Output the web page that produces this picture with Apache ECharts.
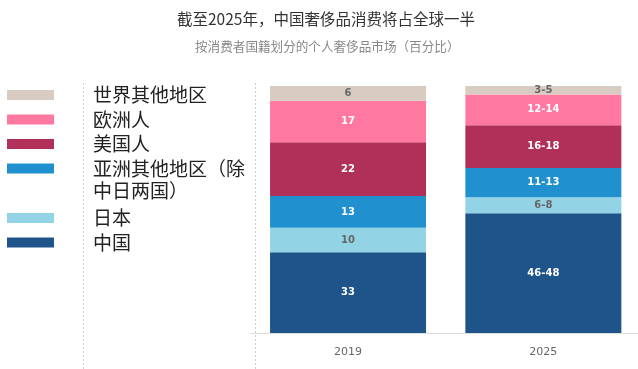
<!DOCTYPE html>
<html>
<head>
<meta charset="utf-8">
<script src="https://cdn.jsdelivr.net/npm/echarts@6/dist/echarts.min.js"></script>
<style>html,body{margin:0;padding:0;background:#fff;overflow:hidden;}#c{width:641px;height:369px;}</style>
</head>
<body>
<div id="c"></div>
<script>
var categories = ['2019', '2025'];
var seriesNames = ['中国', '日本', '亚洲其他地区（除中日两国）', '美国人', '欧洲人', '世界其他地区'];
var chinaVals  = [33, 49];
var japanVals  = [10, 6.5];
var asiaVals   = [13, 12];
var usVals     = [22, 17.5];
var europeVals = [17, 12.5];
var restVals   = [6, 3.5];
var chinaLbl  = ['33', '46-48'];
var japanLbl  = ['10', '6-8'];
var asiaLbl   = ['13', '11-13'];
var usLbl     = ['22', '16-18'];
var europeLbl = ['17', '12-14'];
var restLbl   = ['6', '3-5'];
var titleText = '截至2025年，中国奢侈品消费将占全球一半';
var subText = '按消费者国籍划分的个人奢侈品市场（百分比）';

var colors = ['#1f548b', '#93d3e6', '#2190cf', '#b03059', '#ff78a0', '#d8cbc1'];
var labelColors = ['#fff', '#666', '#fff', '#fff', '#fff', '#666'];
var vals = [chinaVals, japanVals, asiaVals, usVals, europeVals, restVals];
var lbls = [chinaLbl, japanLbl, asiaLbl, usLbl, europeLbl, restLbl];

var series = seriesNames.map(function (n, i) {
  return {
    name: n, type: 'bar', stack: 'all', barWidth: 156,
    itemStyle: { color: colors[i] },
    label: {
      show: true, position: 'inside', color: labelColors[i],
      fontSize: 10, fontWeight: 'bold', fontFamily: 'DejaVu Sans',
      formatter: function (p) { return lbls[i][p.dataIndex]; }
    },
    data: vals[i]
  };
});

var legendCommon = {
  orient: 'vertical', left: 7, padding: 0, itemWidth: 47, itemHeight: 10,
  itemGap: 0.5, icon: 'rect',
  textStyle: { fontSize: 19, color: '#222', fontFamily: 'Noto Sans CJK SC', lineHeight: 24, padding: [0, 0, 0, 34] },
  formatter: function (n) { return n === '亚洲其他地区（除中日两国）' ? '亚洲其他地区（除' : n; }
};

var chart = echarts.init(document.getElementById('c'), null, { renderer: 'canvas' });
chart.setOption({
  animation: false,
  title: [
    { text: titleText, left: 177, top: 11, padding: 0,
      textStyle: { fontSize: 15.5, fontWeight: 'normal', color: '#333', fontFamily: 'Noto Sans CJK SC' } },
    { text: subText, left: 195, top: 40, padding: 0,
      textStyle: { fontSize: 12.6, fontWeight: 'normal', color: '#888', fontFamily: 'Noto Sans CJK SC' } }
  ],
  legend: [
    Object.assign({}, legendCommon, { top: 83, data: ['世界其他地区', '欧洲人', '美国人', '亚洲其他地区（除中日两国）'] }),
    Object.assign({}, legendCommon, { top: 206, data: ['日本', '中国'] })
  ],
  graphic: [
    { type: 'text', left: 93, top: 181, style: { text: '中日两国）', font: '19px "Noto Sans CJK SC"', fill: '#222' } },
    { type: 'line', shape: { x1: 83.5, y1: 83, x2: 83.5, y2: 369 }, style: { stroke: '#d0d0d0', lineWidth: 1, lineDash: [2, 2] } },
    { type: 'line', shape: { x1: 255.5, y1: 83, x2: 255.5, y2: 369 }, style: { stroke: '#d0d0d0', lineWidth: 1, lineDash: [2, 2] } }
  ],
  grid: { left: 250.4, right: 0, top: 86, bottom: 36 },
  xAxis: {
    type: 'category', data: categories,
    axisLine: { lineStyle: { color: '#ddd' } },
    axisTick: { alignWithLabel: true, length: 6, lineStyle: { color: '#ddd' } },
    axisLabel: { color: '#666', fontSize: 11, margin: 14, fontFamily: 'DejaVu Sans' }
  },
  yAxis: { type: 'value', min: 0, max: 101, show: false },
  series: series
});
</script>
</body>
</html>
